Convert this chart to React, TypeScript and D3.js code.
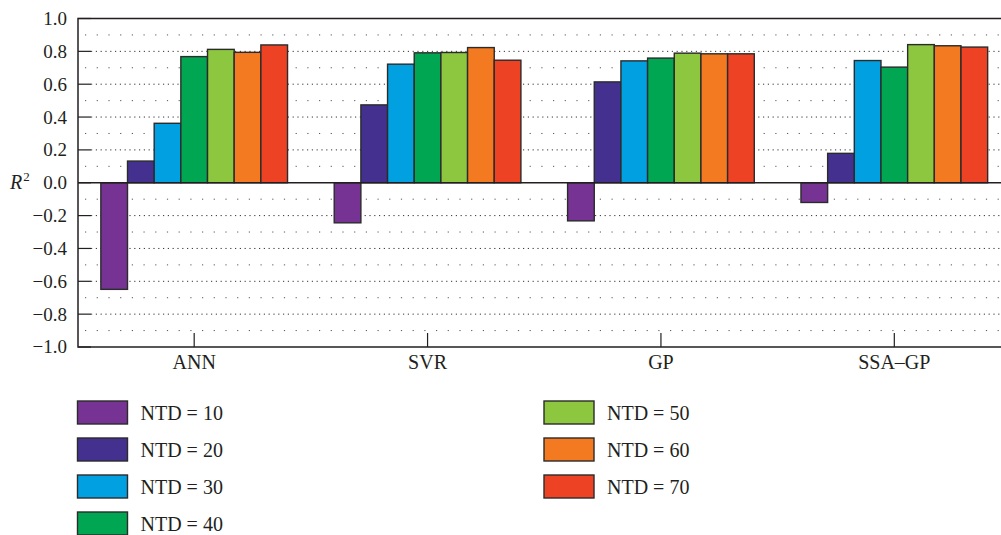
import * as d3 from "d3";
import { useEffect, useRef } from "react";

const MODELS = ["ANN", "SVR", "GP", "SSA\u2013GP"];
const SERIES = ["NTD = 10", "NTD = 20", "NTD = 30", "NTD = 40", "NTD = 50", "NTD = 60", "NTD = 70"];
const COLORS = ["#763393", "#44318f", "#00a0e1", "#00a651", "#8dc63f", "#f47a22", "#ee4224"];

// R2 per model, one value per NTD setting
const ANN_R2 = [-0.649, 0.132, 0.362, 0.768, 0.812, 0.794, 0.839];
const SVR_R2 = [-0.244, 0.474, 0.722, 0.791, 0.793, 0.823, 0.746];
const GP_R2 = [-0.232, 0.614, 0.742, 0.759, 0.789, 0.785, 0.785];
const SSAGP_R2 = [-0.12, 0.179, 0.744, 0.704, 0.841, 0.834, 0.826];
const VALUES = [ANN_R2, SVR_R2, GP_R2, SSAGP_R2];

const Y_TICKS = [-1, -0.8, -0.6, -0.4, -0.2, 0, 0.2, 0.4, 0.6, 0.8, 1];
const Y_MINOR = [-0.9, -0.7, -0.5, -0.3, -0.1, 0.1, 0.3, 0.5, 0.7, 0.9];

const FONT = "'Liberation Serif', 'DejaVu Serif', serif";
const INK = "#231f20";

export default function App() {
  const ref = useRef<SVGSVGElement | null>(null);

  useEffect(() => {
    const svg = d3.select(ref.current);
    svg.selectAll("*").remove();

    const left = 78;
    const right = 1011;
    const top = 18.5;
    const bottom = 347;

    const y = d3.scaleLinear().domain([-1, 1]).range([bottom, top]);
    const x0 = d3.scaleBand().domain(MODELS).range([left - 0.5, right]).paddingInner(0.2).paddingOuter(0.1);
    const x1 = d3.scaleBand().domain(SERIES).range([0, x0.bandwidth()]);

    const g = svg.append("g");

    // dotted grid
    g.selectAll("line.major")
      .data(Y_TICKS.filter((v) => Math.abs(v) > 0 && Math.abs(v) < 1))
      .enter()
      .append("line")
      .attr("x1", left + 13)
      .attr("x2", right)
      .attr("y1", (d) => y(d))
      .attr("y2", (d) => y(d))
      .attr("stroke", "#333")
      .attr("stroke-width", 1)
      .attr("stroke-dasharray", "1.2 3.6");

    g.selectAll("line.minor")
      .data(Y_MINOR)
      .enter()
      .append("line")
      .attr("x1", left + 7)
      .attr("x2", right)
      .attr("y1", (d) => y(d))
      .attr("y2", (d) => y(d))
      .attr("stroke", "#555")
      .attr("stroke-width", 1)
      .attr("stroke-dasharray", "1.2 10.5");

    // y ticks (inward)
    g.selectAll("line.ytick")
      .data(Y_TICKS)
      .enter()
      .append("line")
      .attr("x1", left)
      .attr("x2", left + 13)
      .attr("y1", (d) => y(d))
      .attr("y2", (d) => y(d))
      .attr("stroke", INK)
      .attr("stroke-width", 1.2);

    // bars
    const groups = g
      .selectAll("g.model")
      .data(MODELS)
      .enter()
      .append("g")
      .attr("transform", (d) => `translate(${x0(d)},0)`);

    groups
      .selectAll("rect")
      .data((d, i) => VALUES[i].map((v, j) => ({ key: SERIES[j], v, c: COLORS[j] })))
      .enter()
      .append("rect")
      .attr("x", (d) => x1(d.key) as number)
      .attr("width", x1.bandwidth())
      .attr("y", (d) => y(Math.max(0, d.v)))
      .attr("height", (d) => Math.abs(y(d.v) - y(0)))
      .attr("fill", (d) => d.c)
      .attr("stroke", "#2b2b2b")
      .attr("stroke-width", 1.4);

    // zero line
    g.append("line")
      .attr("x1", left)
      .attr("x2", right)
      .attr("y1", y(0))
      .attr("y2", y(0))
      .attr("stroke", INK)
      .attr("stroke-width", 1.6);

    // frame
    g.append("path")
      .attr("d", `M${right},${top}H${left}V${bottom}H${right}`)
      .attr("fill", "none")
      .attr("stroke", INK)
      .attr("stroke-width", 1.5);

    // x ticks
    g.selectAll("line.xtick")
      .data(MODELS)
      .enter()
      .append("line")
      .attr("x1", (d) => (x0(d) as number) + x0.bandwidth() / 2)
      .attr("x2", (d) => (x0(d) as number) + x0.bandwidth() / 2)
      .attr("y1", bottom)
      .attr("y2", bottom - 14)
      .attr("stroke", INK)
      .attr("stroke-width", 1.2);

    // y tick labels
    const fmt = d3.format(".1f");
    g.selectAll("text.ylab")
      .data(Y_TICKS)
      .enter()
      .append("text")
      .attr("x", left - 11)
      .attr("y", (d) => y(d))
      .attr("dy", "0.34em")
      .attr("text-anchor", "end")
      .attr("font-family", FONT)
      .attr("font-size", 19)
      .attr("fill", INK)
      .text((d) => fmt(d));

    // x labels
    g.selectAll("text.xlab")
      .data(MODELS)
      .enter()
      .append("text")
      .attr("x", (d) => (x0(d) as number) + x0.bandwidth() / 2)
      .attr("y", 369)
      .attr("text-anchor", "middle")
      .attr("font-family", FONT)
      .attr("font-size", 20)
      .attr("fill", INK)
      .text((d) => d);

    // R^2 axis title
    const rt = g
      .append("text")
      .attr("x", 10)
      .attr("y", 189)
      .attr("font-family", FONT)
      .attr("font-size", 20)
      .attr("fill", INK);
    rt.append("tspan").attr("font-style", "italic").text("R");
    rt.append("tspan").attr("font-size", 13).attr("dy", -8).attr("dx", 1).text("2");

    // legend
    const legend = g
      .selectAll("g.leg")
      .data(SERIES)
      .enter()
      .append("g")
      .attr("transform", (d, i) => {
        const col = i < 4 ? 0 : 1;
        const row = i < 4 ? i : i - 4;
        return `translate(${col === 0 ? 77.5 : 544},${401 + row * 37})`;
      });

    legend
      .append("rect")
      .attr("width", 50)
      .attr("height", 23)
      .attr("fill", (d, i) => COLORS[i])
      .attr("stroke", "#2b2b2b")
      .attr("stroke-width", 1.4);

    legend
      .append("text")
      .attr("x", 63)
      .attr("y", 11.5)
      .attr("dy", "0.35em")
      .attr("font-family", FONT)
      .attr("font-size", 20)
      .attr("fill", INK)
      .text((d) => d);
  }, []);

  return (
    <svg
      ref={ref}
      width={1001}
      height={535}
      style={{ position: "absolute", left: 0, top: 0, background: "#fff" }}
    />
  );
}
